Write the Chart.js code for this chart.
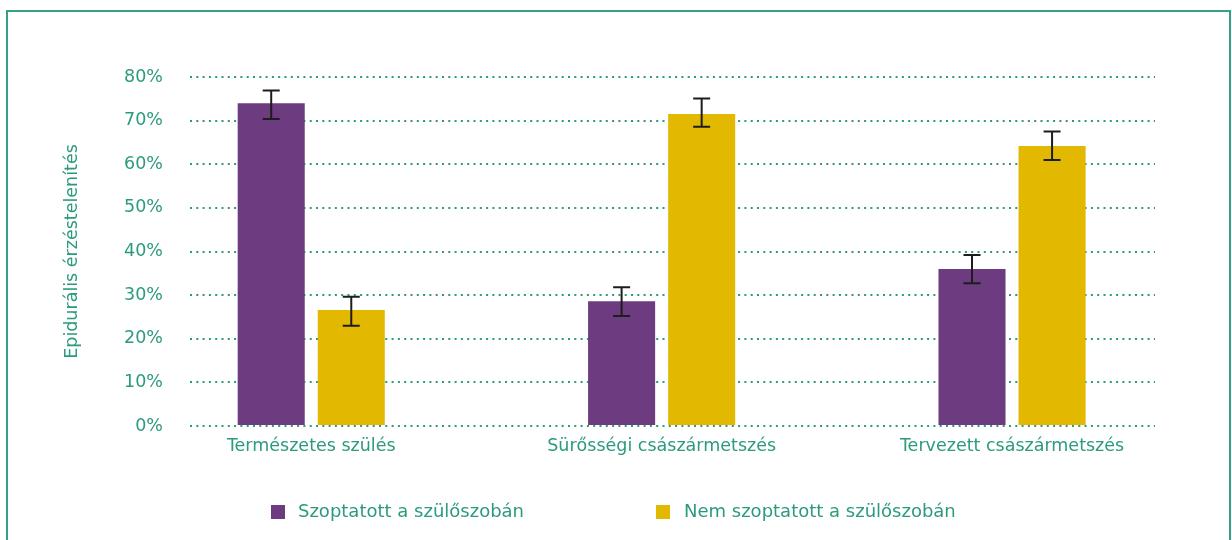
<!DOCTYPE html>
<html>
<head>
<meta charset="utf-8">
<script src="https://cdn.jsdelivr.net/npm/chart.js@4.4.1/dist/chart.umd.min.js"></script>
<style>
  html, body { margin: 0; padding: 0; background: #ffffff; }
  #wrap { position: relative; width: 1232px; height: 540px; overflow: hidden; }
  #frame { position: absolute; left: 6px; top: 10px; width: 1225px; height: 560px;
           border: 2px solid #36a086; box-sizing: border-box; }
  #c { position: absolute; left: 0; top: 0; }
</style>
</head>
<body>
<div id="wrap">
  <div id="frame"></div>
  <canvas id="c" width="1232" height="540"></canvas>
</div>
<script>
const categories = ['Természetes szülés', 'Sürősségi császármetszés', 'Tervezett császármetszés'];
const seriesNames = ['Szoptatott a szülőszobán', 'Nem szoptatott a szülőszobán'];
const breastfed = [74.0, 28.6, 36.0];
const breastfedLow = [70.4, 25.2, 32.7];
const breastfedHigh = [76.9, 31.8, 39.2];
const notBreastfed = [26.6, 71.5, 64.2];
const notBreastfedLow = [23.0, 68.6, 61.0];
const notBreastfedHigh = [29.6, 75.1, 67.5];
const yTicks = [0, 10, 20, 30, 40, 50, 60, 70, 80];

const TEAL = '#2c9a7e';
const PURPLE = '#6d3b7f';
const YELLOW = '#e2b800';
const FONT = '"DejaVu Sans"';

function toPoints(vals) { return vals.map((v, i) => ({ x: i, y: v })); }

const errorBars = {
  id: 'errorBars',
  afterDatasetsDraw(chart) {
    const ctx = chart.ctx;
    const ys = chart.scales.y;
    chart.data.datasets.forEach((ds, di) => {
      const meta = chart.getDatasetMeta(di);
      meta.data.forEach((bar, i) => {
        const x = bar.x;
        const yl = ys.getPixelForValue(ds.errLow[i]);
        const yh = ys.getPixelForValue(ds.errHigh[i]);
        ctx.save();
        ctx.strokeStyle = '#1d1d1d';
        ctx.lineWidth = 2;
        ctx.beginPath();
        ctx.moveTo(x, yl); ctx.lineTo(x, yh);
        ctx.moveTo(x - 8.5, yl); ctx.lineTo(x + 8.5, yl);
        ctx.moveTo(x - 8.5, yh); ctx.lineTo(x + 8.5, yh);
        ctx.stroke();
        ctx.restore();
      });
    });
  }
};

const customLegend = {
  id: 'customLegend',
  afterDraw(chart) {
    const ctx = chart.ctx;
    const items = [{ box: 271, text: 298 }, { box: 656, text: 684 }];
    const cy = 512;
    ctx.save();
    ctx.font = '18px ' + FONT;
    ctx.textBaseline = 'middle';
    ctx.textAlign = 'left';
    chart.data.datasets.forEach((ds, i) => {
      ctx.fillStyle = ds.backgroundColor;
      ctx.fillRect(items[i].box, cy - 7, 14, 14);
      ctx.fillStyle = TEAL;
      ctx.fillText(ds.label, items[i].text, cy);
    });
    ctx.restore();
  }
};

new Chart(document.getElementById('c'), {
  type: 'bar',
  data: {
    datasets: [
      { label: seriesNames[0], data: toPoints(breastfed), backgroundColor: PURPLE,
        errLow: breastfedLow, errHigh: breastfedHigh },
      { label: seriesNames[1], data: toPoints(notBreastfed), backgroundColor: YELLOW,
        errLow: notBreastfedLow, errHigh: notBreastfedHigh }
    ]
  },
  options: {
    responsive: false,
    animation: false,
    categoryPercentage: 0.457,
    barPercentage: 0.8375,
    layout: { padding: { left: 0, right: 77, top: 77, bottom: 0 } },
    plugins: { legend: { display: false }, tooltip: { enabled: false } },
    scales: {
      x: {
        type: 'linear',
        offset: false,
        bounds: 'data',
        min: -0.346,
        max: 2.408,
        afterBuildTicks: (scale) => { scale.ticks = categories.map((c, i) => ({ value: i })); },
        afterFit: (scale) => { scale.height = 114; },
        grid: { display: false, drawTicks: false, offset: false },
        border: { display: false },
        ticks: {
          autoSkip: false,
          maxRotation: 0,
          padding: 10,
          color: TEAL,
          font: { family: FONT, size: 17.5 },
          callback: (v) => categories[v] ?? ''
        }
      },
      y: {
        min: 0,
        max: 80,
        afterBuildTicks: (scale) => { scale.ticks = yTicks.map(v => ({ value: v })); },
        afterFit: (scale) => { scale.width = 190; },
        grid: { color: TEAL, lineWidth: 2, drawTicks: false, borderDash: [2, 4.3] },
        border: { display: false, dash: [2, 4.3] },
        ticks: {
          padding: 27,
          color: TEAL,
          font: { family: FONT, size: 17.5 },
          callback: (v) => v + '%'
        },
        title: {
          display: true,
          text: 'Epidurális érzéstelenítés',
          color: TEAL,
          font: { family: FONT, size: 17.5 },
          padding: { top: 62, bottom: 0 }
        }
      }
    }
  },
  plugins: [errorBars, customLegend]
});
</script>
</body>
</html>
